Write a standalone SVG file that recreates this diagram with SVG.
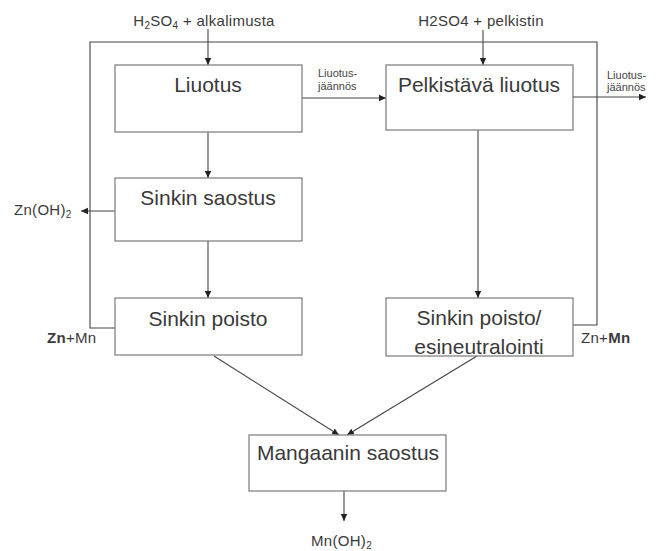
<svg xmlns="http://www.w3.org/2000/svg" width="663" height="551" viewBox="0 0 663 551">
<style>
.box{fill:#fff;stroke:#7a7a7a;stroke-width:1.2}
.ln{fill:none;stroke:#444;stroke-width:1.1}
.arr{fill:none;stroke:#444;stroke-width:1.1;marker-end:url(#ah)}
.big{font-family:"Liberation Sans",Arial,sans-serif;font-size:21px;fill:#3a3a3a}
.sm{font-family:"Liberation Sans",Arial,sans-serif;font-size:15px;letter-spacing:0.3px;fill:#3a3a3a}
.xs{font-family:"Liberation Sans",Arial,sans-serif;font-size:11px;fill:#444}
</style>
<defs>
<marker id="ah" markerUnits="userSpaceOnUse" markerWidth="8" markerHeight="8" viewBox="0 0 8 8" refX="7" refY="4" orient="auto">
<path d="M0,0.8 L7,4 L0,7.2 z" fill="#222"/>
</marker>
</defs>
<rect width="663" height="551" fill="#fff"/>
<g id="connectors">
<polyline class="ln" points="115,328 90,328 90,42 597,42 597,325 573,325"/>
<line class="arr" x1="208" y1="29" x2="208" y2="65"/>
<line class="arr" x1="483" y1="30" x2="483" y2="65"/>
<line class="arr" x1="302" y1="98" x2="386" y2="98"/>
<line class="arr" x1="573" y1="97" x2="646" y2="97"/>
<line class="arr" x1="208" y1="132" x2="208" y2="178"/>
<line class="arr" x1="208" y1="241" x2="208" y2="298"/>
<line class="arr" x1="478" y1="130" x2="478" y2="298"/>
<line class="arr" x1="115" y1="211" x2="81" y2="211"/>
<line class="arr" x1="214" y1="356" x2="339" y2="435"/>
<line class="arr" x1="477" y1="356" x2="347" y2="435"/>
<line class="arr" x1="344" y1="491" x2="344" y2="521"/>
</g>
<g id="liuotus">
<rect class="box" x="115" y="65" width="187" height="67"/>
<text class="big" x="208" y="92" text-anchor="middle">Liuotus</text>
</g>
<g id="pelkistava">
<rect class="box" x="386" y="65" width="187" height="65"/>
<text class="big" x="479" y="92" text-anchor="middle">Pelkistävä liuotus</text>
</g>
<g id="saostus">
<rect class="box" x="115" y="178" width="187" height="63"/>
<text class="big" x="208" y="205" text-anchor="middle">Sinkin saostus</text>
</g>
<g id="poisto">
<rect class="box" x="115" y="298" width="187" height="57"/>
<text class="big" x="208" y="326" text-anchor="middle">Sinkin poisto</text>
</g>
<g id="esineutralointi">
<rect class="box" x="386" y="298" width="187" height="58"/>
<text class="big" x="479" y="325" text-anchor="middle">Sinkin poisto/</text>
<text class="big" x="479" y="354" text-anchor="middle">esineutralointi</text>
</g>
<g id="mangaani">
<rect class="box" x="249" y="435" width="197" height="56"/>
<text class="big" x="348" y="460" text-anchor="middle">Mangaanin saostus</text>
</g>
<g id="labels">
<text class="sm" x="204" y="26" text-anchor="middle">H<tspan font-size="10" dy="3">2</tspan><tspan dy="-3">SO</tspan><tspan font-size="10" dy="3">4</tspan><tspan dy="-3"> + alkalimusta</tspan></text>
<text class="sm" x="481" y="26" text-anchor="middle">H2SO4 + pelkistin</text>
<text class="xs" x="318" y="77">Liuotus-</text>
<text class="xs" x="318" y="90">jäännös</text>
<text class="xs" x="607" y="79">Liuotus-</text>
<text class="xs" x="607" y="91">jäännös</text>
<text class="sm" x="14" y="215">Zn(OH)<tspan font-size="10" dy="3">2</tspan></text>
<text class="sm" x="47" y="343"><tspan font-weight="bold">Zn</tspan>+Mn</text>
<text class="sm" x="581" y="343">Zn+<tspan font-weight="bold">Mn</tspan></text>
<text class="sm" x="311" y="546">Mn(OH)<tspan font-size="10" dy="3">2</tspan></text>
</g>
</svg>
